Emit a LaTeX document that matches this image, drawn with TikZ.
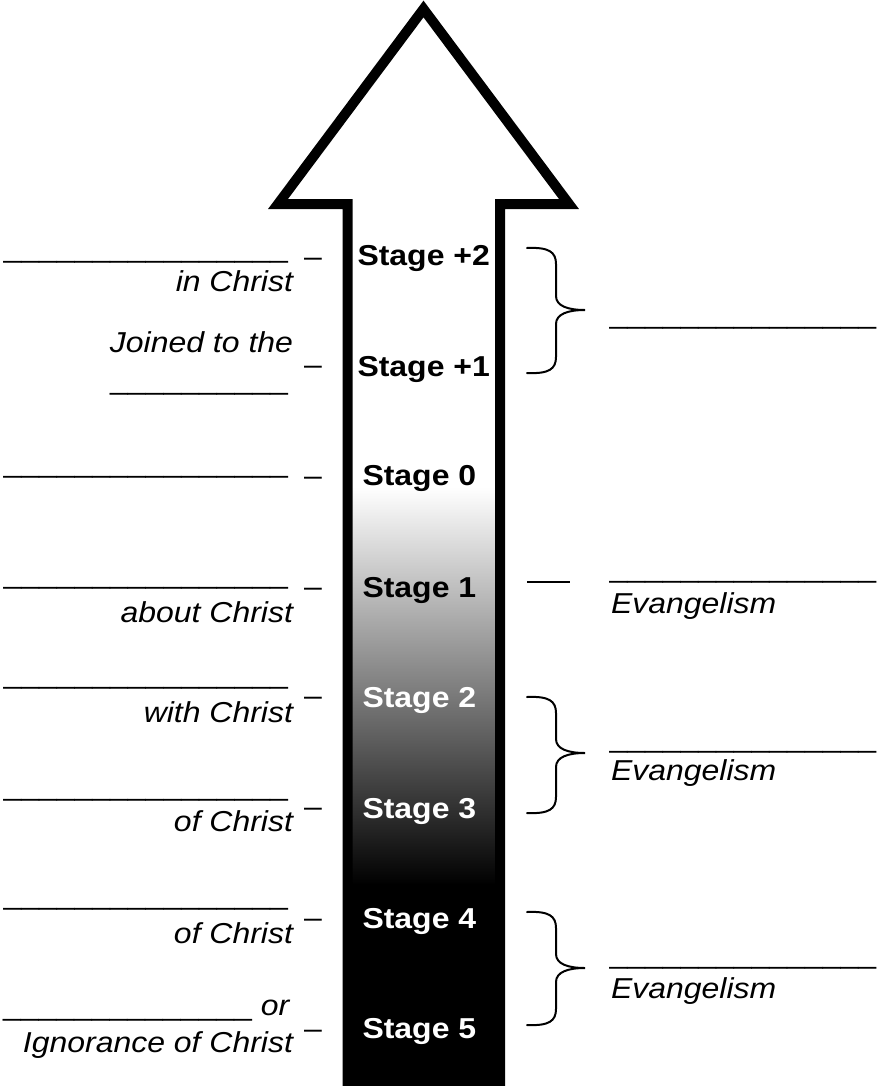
\documentclass[tikz,border=0pt]{standalone}
\usepackage{fontspec}
\newfontfamily\wfont{Liberation Sans}[FakeStretch=1.11]
\newcommand\uscr{\_\_\_\_}
\tikzset{
  lab/.style={inner sep=0pt, outer sep=0pt, font=\wfont\itshape\fontsize{21.6}{25}\selectfont},
  stg/.style={inner sep=0pt, outer sep=0pt, anchor=base west, font=\wfont\bfseries\fontsize{21.6}{25}\selectfont},
  dsh/.style={inner sep=0pt, outer sep=0pt, anchor=base west, font=\wfont\fontsize{21.6}{25}\selectfont},
  blank/.style={inner sep=0pt, outer sep=0pt, font=\wfont\fontsize{21.6}{25}\selectfont},
  bracestroke/.style={line width=1.5pt, line cap=round},
  arrowline/.style={line width=7.5pt, line join=miter},
}
\begin{document}
\begin{tikzpicture}[x=0.75pt, y=-0.75pt]
\useasboundingbox (0,0) rectangle (877,1086);
\fill[white] (0,0) rectangle (877,1086);
% shaft fill
\shade[top color=white, middle color=black!58, bottom color=black] (350,487) rectangle (498,885);
\fill[black] (350,884) rectangle (498,1090);
% arrow outline
\draw[arrowline] (347.5,1092) -- (347.5,204) -- (278,204) -- (423.5,9) -- (569,204) -- (500,204) -- (500,1092);
% stage labels
\node[stg] (s2p) at (357.5,265) {Stage +2};
\node[stg] (s1p) at (357.5,376) {Stage +1};
\node[stg] (s0) at (362.5,485) {Stage 0};
\node[stg] (s1) at (362.5,597) {Stage 1};
\node[stg, text=white] (s2) at (362.5,707) {Stage 2};
\node[stg, text=white] (s3) at (362.5,818) {Stage 3};
\node[stg, text=white] (s4) at (362.5,928) {Stage 4};
\node[stg, text=white] (s5) at (362.5,1038) {Stage 5};
% dashes
\node[dsh] (d1) at (304,266) {–};
\node[dsh] (d2) at (304,374) {–};
\node[dsh] (d3) at (304,485) {–};
\node[dsh] (d4) at (304,596) {–};
\node[dsh] (d5) at (304,705) {–};
\node[dsh] (d6) at (304,816) {–};
\node[dsh] (d7) at (304,927) {–};
\node[dsh] (d8) at (304,1038) {–};
% left blanks and labels
\node[blank, anchor=base east] (l1) at (288,257) {\uscr\uscr\uscr\uscr};
\node[lab, anchor=base east] (t1) at (293,291) {in Christ};
\node[lab, anchor=base east] (t2) at (293,352) {Joined to the};
\node[blank, anchor=base east] (l2) at (288,389) {\uscr\uscr\_\_};
\node[blank, anchor=base east] (l3) at (288,472) {\uscr\uscr\uscr\uscr};
\node[blank, anchor=base east] (l4) at (288,583) {\uscr\uscr\uscr\uscr};
\node[lab, anchor=base east] (t4) at (293,622) {about Christ};
\node[blank, anchor=base east] (l5) at (288,683) {\uscr\uscr\uscr\uscr};
\node[lab, anchor=base east] (t5) at (293,722) {with Christ};
\node[blank, anchor=base east] (l6) at (288,795) {\uscr\uscr\uscr\uscr};
\node[lab, anchor=base east] (t6) at (293,831) {of Christ};
\node[blank, anchor=base east] (l7) at (288,904) {\uscr\uscr\uscr\uscr};
\node[lab, anchor=base east] (t7) at (293,943) {of Christ};
\node[lab, anchor=base west] (l8) at (3,1015) {\upshape\uscr\uscr\uscr\_\_\itshape{} or};
\node[lab, anchor=base east] (t8) at (293,1052) {Ignorance of Christ};
% right side blanks and labels
\node[blank, anchor=base west] (r1) at (609.5,323) {\uscr\uscr\uscr\_\_\_};
\draw[line width=1.5pt] (527,582) -- (570,582);
\node[blank, anchor=base west] (r2) at (609.5,577) {\uscr\uscr\uscr\_\_\_};
\node[lab, anchor=base west] (e2) at (611,613) {Evangelism};
\node[blank, anchor=base west] (r3) at (609.5,747) {\uscr\uscr\uscr\_\_\_};
\node[lab, anchor=base west] (e3) at (611,780) {Evangelism};
\node[blank, anchor=base west] (r4) at (609.5,963) {\uscr\uscr\uscr\_\_\_};
\node[lab, anchor=base west] (e4) at (611,998) {Evangelism};
% braces
\foreach \t/\m/\b in {248/310/373, 697/753/813, 912/968/1025}{
  \draw[bracestroke] (527,\t) .. controls (549,\t-1) and (556,\t+4) .. (556,\t+16)
    -- (556,\m-14) .. controls (556,\m-4) and (568,\m) .. (585,\m)
    .. controls (568,\m) and (556,\m+4) .. (556,\m+14)
    -- (556,\b-16) .. controls (556,\b-4) and (549,\b+1) .. (527,\b);
}
\end{tikzpicture}
\end{document}
